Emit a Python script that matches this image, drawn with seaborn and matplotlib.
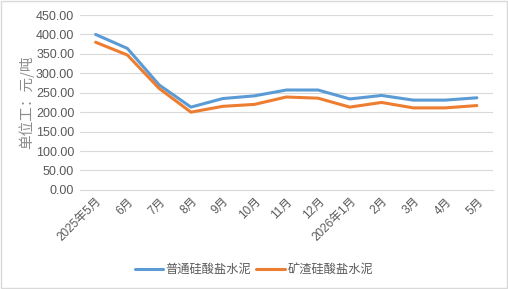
import matplotlib
matplotlib.use("Agg")
import matplotlib.pyplot as plt
import seaborn as sns
import pandas as pd

months = ["2025年5月", "6月", "7月", "8月", "9月", "10月", "11月", "12月",
          "2026年1月", "2月", "3月", "4月", "5月"]
ordinary = [400, 364, 270, 213, 235, 242, 257, 257, 234, 243, 231, 231, 237]
slag = [380, 347, 261, 200, 215, 220, 239, 236, 213, 225, 211, 211, 217]
series_names = ["普通硅酸盐水泥", "矿渣硅酸盐水泥"]
yticks = [0, 50, 100, 150, 200, 250, 300, 350, 400, 450]

sns.set_theme(style="white")
fam = ['Liberation Sans', 'Noto Sans CJK SC', 'DejaVu Sans']
plt.rcParams['font.family'] = fam

df = pd.DataFrame({
    "month": months * 2,
    "x": list(range(len(months))) * 2,
    "price": ordinary + slag,
    "series": [series_names[0]] * len(months) + [series_names[1]] * len(months),
})

fig = plt.figure(figsize=(5.08, 2.89), dpi=100)
ax = fig.add_axes([0.157, 0.343, 0.813, 0.605])
sns.lineplot(data=df, x="x", y="price", hue="series", sort=False,
             palette=["#5B9BD5", "#ED7D31"], linewidth=2.2, ax=ax, legend=True)

ax.set_xlim(-0.5, len(months) - 0.5)
ax.set_ylim(0, 450)
ax.set_yticks(yticks)
ax.set_yticklabels([f"{v:.2f}" for v in yticks], fontsize=9, color="#595959")
ax.set_xticks(range(len(months)))
ax.set_xticklabels(months, rotation=45, ha="right", rotation_mode="anchor",
                   fontsize=8.5, color="#595959")
ax.tick_params(axis="both", length=0, pad=4)
ax.grid(axis="y", color="#D9D9D9", linewidth=0.8)
ax.set_axisbelow(True)
for s in ["top", "right", "left"]:
    ax.spines[s].set_visible(False)
ax.spines["bottom"].set_color("#D9D9D9")
ax.spines["bottom"].set_linewidth(0.8)
ax.set_xlabel("")
ax.set_ylabel("单位工：元/吨", fontsize=10.5, color="#8C8C8C", labelpad=1,
              family=['Noto Sans CJK SC', 'DejaVu Sans'])

handles, labels = ax.get_legend_handles_labels()
ax.legend(handles, labels, loc="center", bbox_to_anchor=(0.5, 0.068),
          bbox_transform=fig.transFigure, ncol=2, frameon=False,
          prop={'family': ['Noto Sans CJK SC', 'DejaVu Sans'], 'size': 8.8},
          handlelength=2.3, columnspacing=0.4, handletextpad=0.25,
          labelcolor="#595959")

fig.patches.append(plt.Rectangle((0.001, 0.002), 0.997, 0.995, transform=fig.transFigure,
                                 fill=False, edgecolor="#D9D9D9", linewidth=1))
fig.savefig("out.png", dpi=100)
